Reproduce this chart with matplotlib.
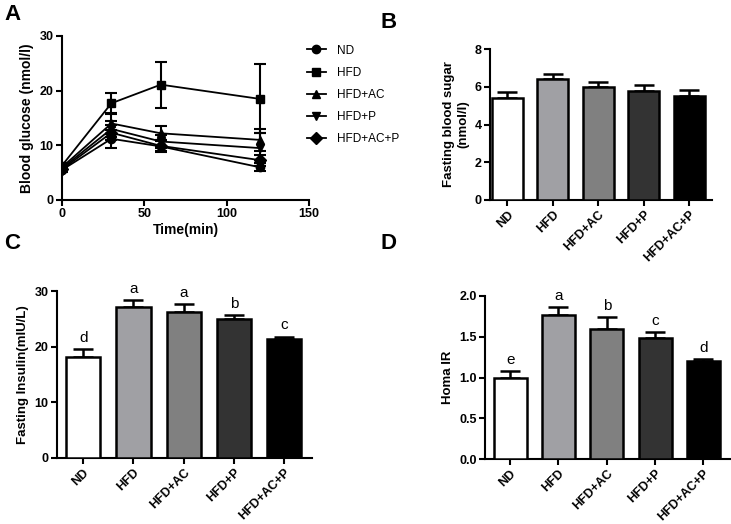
import numpy as np
import matplotlib
matplotlib.use("Agg")
import matplotlib.pyplot as plt
from matplotlib.lines import Line2D

plt.rcParams['font.family'] = ['Liberation Sans', 'DejaVu Sans']

# donnees panneau A : glycemie au cours du temps
time = [0, 30, 60, 120]
groups = ["ND", "HFD", "HFD+AC", "HFD+P", "HFD+AC+P"]
glucose = {
    "ND":       [5.5, 11.2, 9.8, 6.0],
    "HFD":      [6.3, 17.7, 21.1, 18.5],
    "HFD+AC":   [6.0, 14.0, 12.2, 11.0],
    "HFD+P":    [5.8, 13.0, 10.7, 9.5],
    "HFD+AC+P": [5.6, 12.3, 9.9, 7.3],
}
glucose_err = {
    "ND":       [0.3, 1.6, 1.1, 0.7],
    "HFD":      [0.4, 1.9, 4.2, 6.3],
    "HFD+AC":   [0.3, 1.9, 1.4, 2.0],
    "HFD+P":    [0.3, 1.5, 1.1, 2.7],
    "HFD+AC+P": [0.3, 1.4, 1.0, 1.0],
}
markers = ["o", "s", "^", "v", "D"]

# panneaux B, C, D : barres
fbs = [5.4, 6.4, 6.0, 5.8, 5.5]
fbs_err = [0.32, 0.25, 0.25, 0.3, 0.35]
insulin = [18.2, 27.2, 26.2, 25.0, 21.4]
insulin_err = [1.3, 1.1, 1.5, 0.6, 0.4]
insulin_letters = ["d", "a", "a", "b", "c"]
homa = [1.0, 1.77, 1.6, 1.48, 1.2]
homa_err = [0.08, 0.09, 0.14, 0.08, 0.03]
homa_letters = ["e", "a", "b", "c", "d"]

bar_colors = ["white", "#a0a0a4", "#808080", "#333333", "black"]

W, H = 731, 524
fig = plt.figure(figsize=(W / 100, H / 100), dpi=100)


def box(l, r, t, b):
    return [l / W, 1 - b / H, (r - l) / W, (b - t) / H]


def style(ax):
    for s in ["top", "right"]:
        ax.spines[s].set_visible(False)
    for s in ["left", "bottom"]:
        ax.spines[s].set_linewidth(1.5)
    ax.tick_params(direction="out", width=1.5, length=4, labelsize=9, pad=2)
    for lab in ax.get_xticklabels() + ax.get_yticklabels():
        lab.set_fontweight("bold")


# ---- A
axA = fig.add_axes(box(62, 309, 36, 200))
for g, m in zip(groups, markers):
    axA.errorbar(time, glucose[g], yerr=glucose_err[g], color="black",
                 marker=m, markersize=6, lw=1.3, capsize=4, capthick=1.5,
                 elinewidth=1.5)
axA.set_xlim(0, 150)
axA.set_ylim(0, 30)
axA.set_xticks([0, 50, 100, 150])
axA.set_yticks([0, 10, 20, 30])
axA.set_xlabel("Time(min)", fontsize=10, fontweight="bold", labelpad=2)
axA.set_ylabel("Blood glucose (nmol/l)", fontsize=10, fontweight="bold", labelpad=4)
style(axA)
handles = [Line2D([], [], color="black", marker=m, markersize=6, lw=1.3) for m in markers]
fig.legend(handles=handles, labels=groups, loc="upper left",
           bbox_to_anchor=(296 / W, 1 - 34 / H), frameon=False, fontsize=8.5,
           handlelength=1.6, labelspacing=0.85, handletextpad=1.0)


def bars(rect, vals, errs, ylim, yticks, ylabel, letters=None, xlim=(-0.52, 4.55), fmt=None):
    ax = fig.add_axes(rect)
    x = np.arange(len(groups))
    ax.bar(x, vals, width=0.68, color=bar_colors, edgecolor="black", linewidth=1.8, zorder=3)
    ax.errorbar(x, vals, yerr=[np.zeros(len(vals)), errs], fmt="none", ecolor="black",
                elinewidth=1.8, capsize=7, capthick=1.8, zorder=2)
    ax.set_xlim(*xlim)
    ax.set_ylim(*ylim)
    ax.set_yticks(yticks)
    if fmt:
        ax.set_yticklabels([fmt % v for v in yticks])
    ax.set_xticks(x)
    ax.set_xticklabels(groups, rotation=45, ha="right", rotation_mode="anchor")
    ax.set_ylabel(ylabel, fontsize=9.5, fontweight="bold", labelpad=4)
    if letters:
        span = ylim[1] - ylim[0]
        for xi, v, e, t in zip(x, vals, errs, letters):
            ax.text(xi, v + e + span * 0.025, t, ha="center", va="bottom", fontsize=11)
    style(ax)
    return ax


bars(box(490, 712, 49, 200), fbs, fbs_err, (0, 8), [0, 2, 4, 6, 8],
     "Fasting blood sugar\n(nmol/l)", xlim=(-0.38, 4.5))
bars(box(57, 312, 291, 458), insulin, insulin_err, (0, 30), [0, 10, 20, 30],
     "Fasting Insulin(mIU/L)", insulin_letters)
bars(box(485, 730, 296, 459), homa, homa_err, (0, 2.0), [0, 0.5, 1.0, 1.5, 2.0],
     "Homa IR", homa_letters, fmt="%.1f")

# lettres des panneaux
for t, (px, py) in zip("ABCD", [(4, 4), (381, 12), (4, 233), (381, 233)]):
    fig.text(px / W, 1 - py / H, t, fontsize=16, fontweight="bold", va="top", ha="left")

fig.savefig("out.png", dpi=100)
